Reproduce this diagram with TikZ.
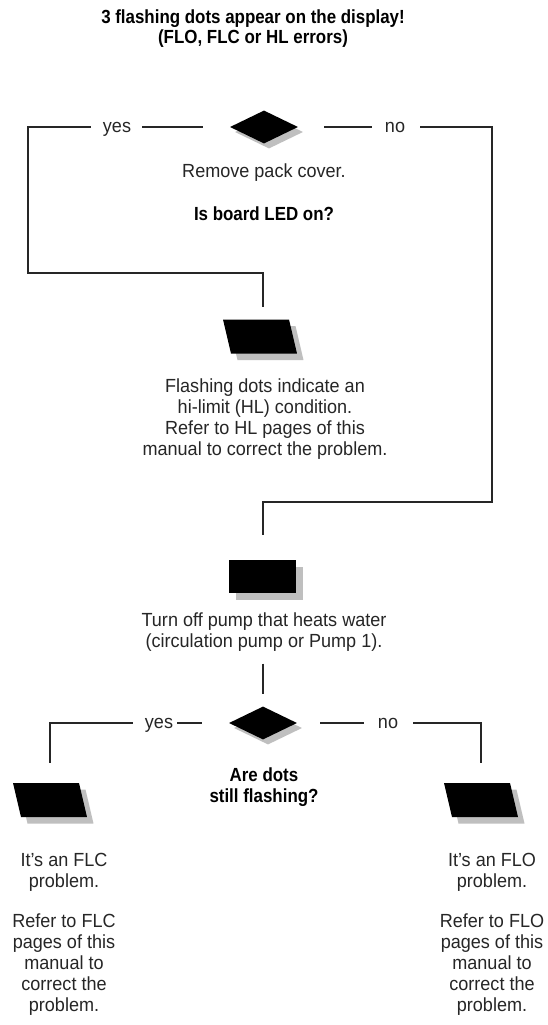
\documentclass[tikz,border=0pt]{standalone}
\usepackage{fontspec}
\setmainfont{Liberation Sans}[UprightFeatures={FakeStretch=0.95},BoldFeatures={FakeStretch=0.89}]
\usetikzlibrary{shapes.geometric,shadows}

% centred block of lines whose baseline is the first line's baseline
\newcommand{\txtlines}[1]{\begin{tabular}[t]{@{}c@{}}#1\end{tabular}}

\tikzset{
  flow/.style={line width=1.1pt, draw=black!85},
  dropgray/.style={drop shadow={shadow xshift=#1, shadow yshift=-#1, fill=black!25, opacity=1}},
  decision/.style={diamond, fill=black, draw=none, inner sep=0pt, aspect=2,
    minimum width=68pt, minimum height=33pt, dropgray=5pt},
  process/.style={rectangle, fill=black, draw=none, inner sep=0pt,
    minimum width=67pt, minimum height=33pt, dropgray=7pt},
  % slanted block: a rectangle sheared so its top leans to the left
  ioblock/.style={rectangle, fill=black, draw=none, inner sep=0pt,
    minimum width=66pt, minimum height=34pt, transform shape, dropgray=6.5pt},
  txt/.style={inner sep=0pt, anchor=base, text=black!85, font=\fontsize{19}{21}\selectfont},
  btxt/.style={txt, text=black, font=\fontsize{19}{21}\selectfont\bfseries}
}

\begin{document}
\begin{tikzpicture}[x=1pt, y=-1pt]
\fill[white] (0,0) rectangle (548,1025);
\useasboundingbox (0,0) rectangle (548,1025);

% heading
\node[btxt, font=\fontsize{19}{19}\selectfont\bfseries] (title) at (253,24) {\txtlines{3 flashing dots appear on the display!\\(FLO, FLC or HL errors)}};

% first decision
\node[decision] (d1) at (264,127) {};
\node[txt] (yes1) at (117,132) {yes};
\node[txt] (no1) at (395,132) {no};
\node[txt] (t1) at (264,177) {Remove pack cover.};
\node[btxt] (q1) at (264,220) {Is board LED on?};

% "yes" branch: hi-limit
\begin{scope}[shift={(260,336.5)}, xslant=-0.235]
  \node[ioblock] (p1) at (0,0) {};
\end{scope}
\node[txt] (t2) at (265,392) {\txtlines{Flashing dots indicate an\\hi-limit (HL) condition.\\Refer to HL pages of this\\manual to correct the problem.}};

% "no" branch: pump step
\node[process] (r1) at (262.5,576.5) {};
\node[txt] (t3) at (264,626) {\txtlines{Turn off pump that heats water\\(circulation pump or Pump 1).}};

% second decision
\node[decision] (d2) at (263,723) {};
\node[txt] (yes2) at (159,728) {yes};
\node[txt] (no2) at (388,728) {no};
\node[btxt] (q2) at (264,781) {\txtlines{Are dots\\still flashing?}};

% outcomes
\begin{scope}[shift={(50,800)}, xslant=-0.235]
  \node[ioblock] (p2) at (0,0) {};
\end{scope}
\begin{scope}[shift={(481,800)}, xslant=-0.235]
  \node[ioblock] (p3) at (0,0) {};
\end{scope}
\node[txt] (t4) at (64,866) {\txtlines{It's an FLC\\problem.\\[19pt]Refer to FLC\\pages of this\\manual to\\correct the\\problem.}};
\node[txt] (t5) at (492,866) {\txtlines{It's an FLO\\problem.\\[19pt]Refer to FLO\\pages of this\\manual to\\correct the\\problem.}};

% connector ends and corners
\coordinate (j1) at (28,273);
\coordinate (p1in) at (263,307);
\coordinate (j2) at (492,502);
\coordinate (r1in) at (263,535);
\coordinate (p2in) at ([yshift=20pt]p2.north -| p2.center);
\coordinate (p3in) at ([yshift=20pt]p3.north -| p3.center);

% connectors of the first decision
\draw[flow] ([xshift=-27pt]d1.west) -- ([xshift=11pt]yes1.east |- d1.west);
\draw[flow] ([xshift=-12pt]yes1.west |- d1.west) -| (j1) -| (p1in);
\draw[flow] ([xshift=26pt]d1.east) -- ([xshift=-13pt]no1.west |- d1.east);
\draw[flow] ([xshift=15pt]no1.east |- d1.east) -| (j2) -| (r1in);

% connectors of the second decision
\draw[flow] ([yshift=-10pt]t3.south -| d2.north) -- ([yshift=12pt]d2.north);
\draw[flow] ([xshift=-27pt]d2.west) -- ([xshift=4pt]yes2.east |- d2.west);
\draw[flow] ([xshift=-12pt]yes2.west |- d2.west) -| (p2in);
\draw[flow] ([xshift=23pt]d2.east) -- ([xshift=-14pt]no2.west |- d2.east);
\draw[flow] ([xshift=15pt]no2.east |- d2.east) -| (p3in);
\end{tikzpicture}
\end{document}
